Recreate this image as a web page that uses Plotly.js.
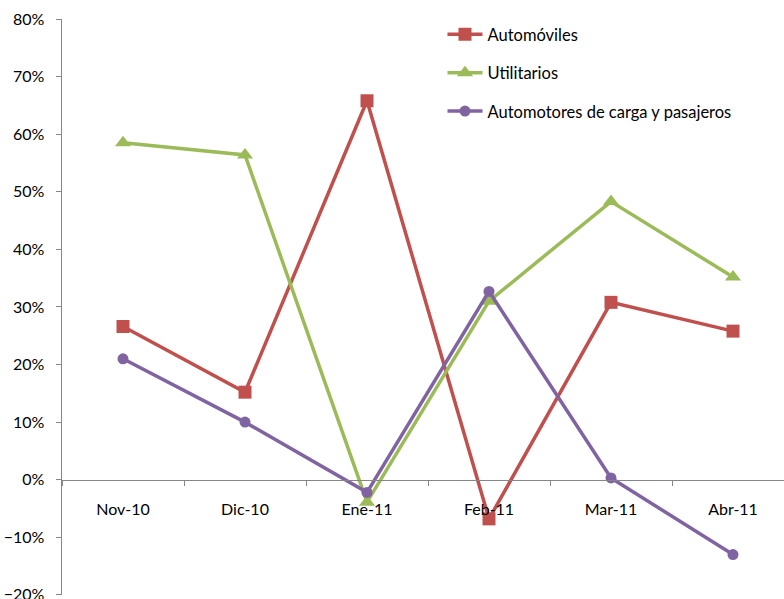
<!DOCTYPE html>
<html>
<head>
<meta charset="utf-8">
<script src="https://cdn.plot.ly/plotly-3.0.1.min.js"></script>
<style>
html,body{margin:0;padding:0;background:#fff;overflow:hidden;}
#chart{width:784px;height:599px;}
</style>
</head>
<body>
<div id="chart"></div>
<script>
const categories = ["Nov-10", "Dic-10", "Ene-11", "Feb-11", "Mar-11", "Abr-11"];
const automoviles = [26.6, 15.2, 65.8, -6.8, 30.8, 25.8];
const utilitarios = [58.5, 56.4, -3.9, 31.0, 48.3, 35.2];
const automotores = [21.0, 10.0, -2.2, 32.7, 0.3, -13.0];
const seriesNames = ["Automóviles", "Utilitarios", "Automotores de carga y pasajeros"];

const FONT = "Lato, 'Open Sans', sans-serif";
const FS = 16;

function mk(y, name, color, symbol, size, group) {
  return {
    x: categories, y: y, name: name, type: "scatter", mode: "lines+markers",
    line: {color: color, width: 3.5},
    marker: {color: color, symbol: symbol, size: size},
    legendgroup: group,
    cliponaxis: false
  };
}

const data = [
  mk(automoviles, seriesNames[0], "#C0504D", "square", 13, "a"),
  mk(utilitarios, seriesNames[1], "#9BBB59", "triangle-up", 14, "b"),
  mk(automotores, seriesNames[2], "#8064A2", "circle", 11, "c")
];

const layout = {
  width: 784, height: 599,
  margin: {l: 62, r: 0, t: 19, b: 4},
  paper_bgcolor: "#fff", plot_bgcolor: "#fff",
  font: {family: FONT, size: FS, color: "#000"},
  showlegend: true,
  legend: {
    x: 0.527, y: 1.0035, xanchor: "left", yanchor: "top",
    traceorder: "grouped", tracegroupgap: 14,
    itemwidth: 35,
    font: {family: FONT, size: 16.5, color: "#000"},
    bgcolor: "rgba(0,0,0,0)"
  },
  xaxis: {
    type: "category",
    range: [-0.5, 5.418],
    anchor: "free", position: 0.2,
    showgrid: false, zeroline: false,
    showline: true, linecolor: "#868686", linewidth: 1.5,
    ticks: "outside", ticklen: 5, tickcolor: "#868686", tickwidth: 1,
    tickson: "boundaries",
    ticklabelstandoff: 14,
    tickfont: {family: FONT, size: FS, color: "#000"}
  },
  yaxis: {
    range: [-20.02, 80], dtick: 10, tick0: 0,
    ticksuffix: "%",
    ticklabeloverflow: "allow",
    showgrid: false, zeroline: false,
    showline: true, linecolor: "#868686", linewidth: 1.5,
    ticks: "outside", ticklen: 5, tickcolor: "#868686", tickwidth: 1,
    ticklabelstandoff: 8,
    tickfont: {family: FONT, size: FS, color: "#000"}
  }
};

Plotly.newPlot("chart", data, layout, {displayModeBar: false, staticPlot: true});
</script>
</body>
</html>
